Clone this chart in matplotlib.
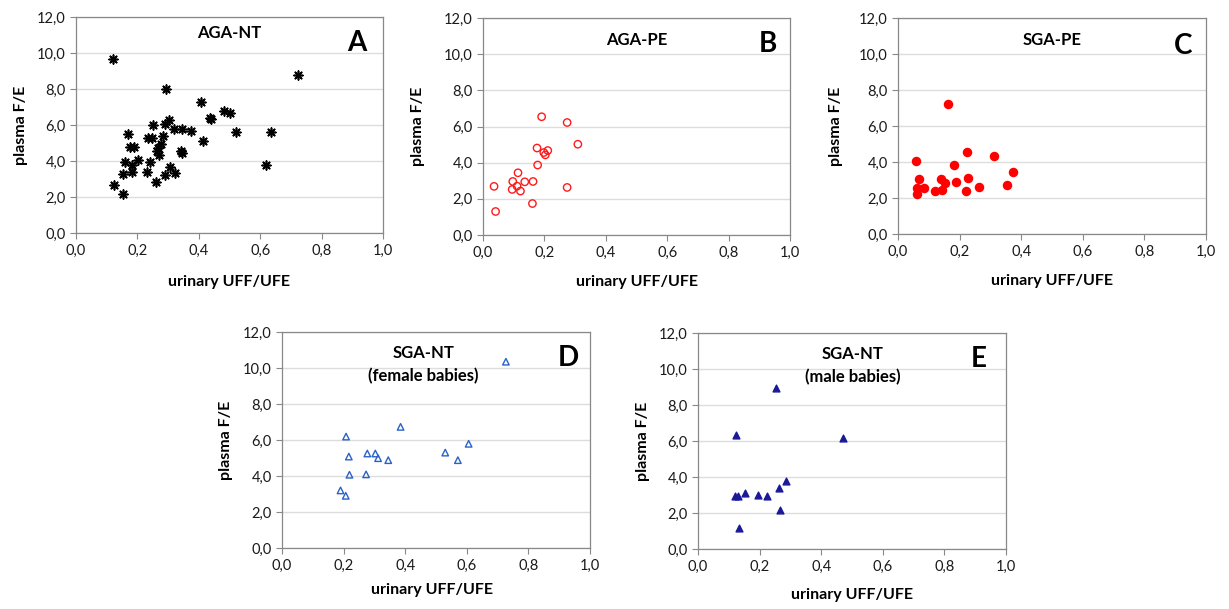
import matplotlib
matplotlib.use("Agg")
import matplotlib.pyplot as plt

plt.rcParams['font.family'] = ['Lato', 'DejaVu Sans']

# panel A: AGA-NT
a_x = [0.121, 0.723, 0.293, 0.406, 0.436, 0.441, 0.483, 0.503, 0.304, 0.291, 0.252,
       0.320, 0.345, 0.374, 0.520, 0.634, 0.170, 0.235, 0.246, 0.284, 0.414, 0.176,
       0.189, 0.277, 0.268, 0.265, 0.270, 0.342, 0.346, 0.161, 0.184, 0.202, 0.241,
       0.183, 0.231, 0.305, 0.290, 0.321, 0.154, 0.620, 0.261, 0.124, 0.154]
a_y = [9.67, 8.78, 8.00, 7.28, 6.41, 6.33, 6.76, 6.69, 6.28, 6.04, 6.00,
       5.76, 5.80, 5.69, 5.61, 5.61, 5.52, 5.30, 5.30, 5.39, 5.11, 4.76,
       4.80, 4.94, 4.70, 4.54, 4.31, 4.54, 4.43, 3.94, 3.76, 4.04, 3.94,
       3.41, 3.41, 3.65, 3.22, 3.31, 3.26, 3.76, 2.81, 2.65, 2.15]

# panel B: AGA-PE
b_x = [0.036, 0.041, 0.097, 0.095, 0.111, 0.114, 0.122, 0.136, 0.163, 0.161,
       0.176, 0.178, 0.191, 0.198, 0.203, 0.211, 0.274, 0.274, 0.309]
b_y = [2.69, 1.30, 2.96, 2.52, 2.70, 3.44, 2.43, 2.94, 2.96, 1.74,
       4.81, 3.87, 6.54, 4.56, 4.43, 4.67, 6.22, 2.63, 5.02]

# panel C: SGA-PE
c_x = [0.057, 0.061, 0.063, 0.069, 0.085, 0.119, 0.139, 0.144, 0.154, 0.162,
       0.181, 0.189, 0.220, 0.223, 0.228, 0.262, 0.312, 0.354, 0.372]
c_y = [4.07, 2.53, 2.25, 3.05, 2.53, 2.40, 3.03, 2.44, 2.81, 7.23,
       3.86, 2.87, 2.40, 4.57, 3.09, 2.59, 4.36, 2.70, 3.42]

# panel D: SGA-NT female
d_x = [0.190, 0.207, 0.208, 0.217, 0.219, 0.273, 0.277, 0.303, 0.312, 0.345,
       0.385, 0.530, 0.571, 0.606, 0.727]
d_y = [3.20, 2.90, 6.19, 5.08, 4.07, 4.09, 5.25, 5.25, 4.99, 4.88,
       6.73, 5.30, 4.88, 5.79, 10.35]

# panel E: SGA-NT male
e_x = [0.122, 0.121, 0.130, 0.132, 0.154, 0.195, 0.225, 0.254, 0.263, 0.265, 0.285, 0.470]
e_y = [6.31, 2.96, 2.93, 1.17, 3.09, 3.02, 2.93, 8.93, 3.41, 2.15, 3.78, 6.15]

W, H = 1229, 609
fig = plt.figure(figsize=(W / 100, H / 100), dpi=100)


def make_ax(left, top, right, bottom):
    return fig.add_axes([left / W, 1 - bottom / H, (right - left) / W, (bottom - top) / H])


def style(ax, title, title_pos, letter, letter_pos, xl_y, yl_x, xl_x=0.5):
    ax.set_xlim(0, 1)
    ax.set_ylim(0, 12)
    ax.set_xticks([0, 0.2, 0.4, 0.6, 0.8, 1.0])
    ax.set_yticks([0, 2, 4, 6, 8, 10, 12])
    ax.set_xticklabels(['0,0', '0,2', '0,4', '0,6', '0,8', '1,0'])
    ax.set_yticklabels(['0,0', '2,0', '4,0', '6,0', '8,0', '10,0', '12,0'])
    ax.tick_params(labelsize=10.5, color='#888888', length=4, width=0.8, labelcolor='#1a1a1a')
    ax.grid(axis='y', color='#dddddd', linewidth=1)
    ax.set_axisbelow(True)
    for s in ax.spines.values():
        s.set_color('#888888')
        s.set_linewidth(0.9)
    ax.set_xlabel('urinary UFF/UFE', fontsize=11.5, fontweight='bold')
    ax.set_ylabel('plasma F/E', fontsize=11.5, fontweight='bold')
    ax.xaxis.set_label_coords(xl_x, xl_y)
    ax.yaxis.set_label_coords(yl_x, 0.5)
    ax.text(title_pos[0], title_pos[1], title, transform=ax.transAxes, ha='center', va='center',
            fontsize=12, fontweight='bold', linespacing=1.55)
    ax.text(letter_pos[0], letter_pos[1], letter, transform=ax.transAxes, ha='center', va='center',
            fontsize=20, fontweight='bold')


ax = make_ax(76, 17, 383, 233)
ax.scatter(a_x, a_y, marker=(8, 2, 0), s=40, color='black', linewidths=1.2)
style(ax, 'AGA-NT', (0.5, 0.926), 'A', (0.915, 0.88), -0.194, -0.156)

ax = make_ax(483, 18, 790, 235)
ax.scatter(b_x, b_y, marker='o', s=28, facecolors='none', edgecolors='#ff1a1a', linewidths=1.0)
style(ax, 'AGA-PE', (0.5, 0.90), 'B', (0.928, 0.88), -0.184, -0.19)

ax = make_ax(898, 18, 1206, 234)
ax.scatter(c_x, c_y, marker='o', s=34, color='#ff0000')
style(ax, 'SGA-PE', (0.5, 0.90), 'C', (0.925, 0.87), -0.184, -0.179)

ax = make_ax(282, 332, 590, 548)
ax.scatter(d_x, d_y, marker='^', s=22, facecolors='none', edgecolors='#2a62c8', linewidths=1.0)
style(ax, 'SGA-NT\n(female babies)', (0.458, 0.85), 'D', (0.929, 0.88), -0.162, -0.159, 0.486)

ax = make_ax(698, 333, 1006, 549)
ax.scatter(e_x, e_y, marker='^', s=24, color='#1a1a99')
style(ax, 'SGA-NT\n(male babies)', (0.503, 0.85), 'E', (0.91, 0.88), -0.18, -0.156)

fig.savefig('out.png', dpi=100)
